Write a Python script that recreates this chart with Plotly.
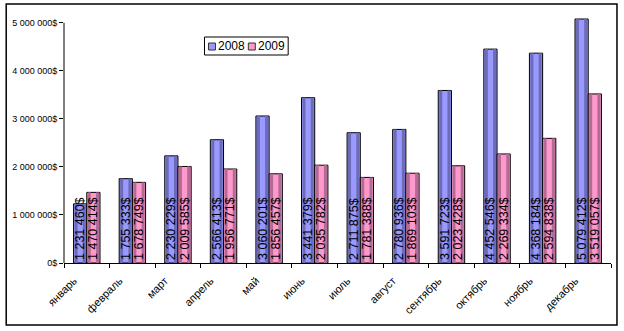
import plotly.graph_objects as go

months = ["январь", "февраль", "март", "апрель", "май", "июнь",
          "июль", "август", "сентябрь", "октябрь", "ноябрь", "декабрь"]
sales_2008 = [1231460, 1755333, 2230229, 2566413, 3060201, 3441379,
              2711875, 2780936, 3591723, 4452546, 4368184, 5079412]
sales_2009 = [1470414, 1678749, 2009585, 1956771, 1856457, 2035782,
              1781388, 1869103, 2023428, 2269334, 2594838, 3519057]
y_ticks = [0, 1000000, 2000000, 3000000, 4000000, 5000000]


def money(v):
    return f"{v:,}".replace(",", " ") + "$"


FONT = "Arial, Liberation Sans, sans-serif"
W = 0.29          # bar width in category units
PX = 1 / 45.75    # one pixel in category units
series = [
    ("2008", sales_2008, -W, "#9999FF", "#6B6BB8"),
    ("2009", sales_2009, 0.0, "#FF99CC", "#B36A95"),
]

fig = go.Figure()
for name, vals, off, light, dark in series:
    # main bar body with outline
    fig.add_trace(go.Bar(
        x=months, y=vals, name=name, offset=off, width=W, showlegend=False,
        marker=dict(color=light, line=dict(color="#000000", width=1)),
        hoverinfo="skip"))
    # darker edge stripes give the rounded, shaded look
    for so in (off + PX, off + W - 4 * PX):
        fig.add_trace(go.Bar(
            x=months, y=vals, offset=so, width=3 * PX, showlegend=False,
            marker=dict(color=dark, line=dict(width=0)), hoverinfo="skip"))

# value labels written upward from the bar base
for name, vals, off, light, dark in series:
    fig.add_trace(go.Bar(
        x=months, y=vals, offset=off, width=W, showlegend=False,
        marker=dict(color="rgba(0,0,0,0)", line=dict(width=0)),
        text=[money(v) for v in vals], textposition="inside",
        insidetextanchor="start", textangle=-90, constraintext="none",
        insidetextfont=dict(family=FONT, size=12.5, color="#000000"),
        hoverinfo="skip"))

Y_TOP = 5100000
L, R, T, B = 62, 13, 18, 68
pw, ph = 624 - L - R, 331 - T - B


def px_x(x):
    return (x - L) / pw


def px_y(y):
    return (331 - B - y) / ph


# outer chart frame
fig.add_shape(type="rect", xref="paper", yref="paper",
              x0=px_x(4), x1=px_x(617), y0=px_y(325), y1=px_y(4),
              line=dict(color="#000000", width=1.5), fillcolor="rgba(0,0,0,0)")
# value axis line, ending at the top tick
fig.add_shape(type="line", xref="paper", yref="y", x0=0, x1=0,
              y0=0, y1=y_ticks[-1], line=dict(color="#000000", width=1))

# legend box with swatches
fig.add_shape(type="rect", xref="paper", yref="paper",
              x0=px_x(203), x1=px_x(287), y0=px_y(55), y1=px_y(37),
              line=dict(color="#000000", width=1), fillcolor="#FFFFFF")
for (name, vals, off, light, dark), sx in zip(series, (207, 247)):
    fig.add_shape(type="rect", xref="paper", yref="paper",
                  x0=px_x(sx), x1=px_x(sx + 7), y0=px_y(50), y1=px_y(43),
                  line=dict(color="#333333", width=1), fillcolor=light)
    fig.add_annotation(xref="paper", yref="paper", x=px_x(sx + 8),
                       y=px_y(46.5), text=name, showarrow=False,
                       xanchor="left", yanchor="middle",
                       font=dict(family=FONT, size=12, color="#000000"))

fig.update_layout(
    width=624, height=331,
    margin=dict(l=L, r=R, t=T, b=B),
    paper_bgcolor="#FFFFFF", plot_bgcolor="#FFFFFF",
    barmode="overlay", bargap=0.42,
    showlegend=False,
    font=dict(family=FONT, color="#000000"),
)
fig.update_xaxes(
    type="category", showline=True, linecolor="#000000", linewidth=1,
    ticks="outside", ticklen=4, tickcolor="#000000", tickson="boundaries",
    tickangle=-45, tickfont=dict(family=FONT, size=11, color="#000000"),
    ticklabelshift=-13, ticklabelstandoff=6,
    showgrid=False, zeroline=False, range=[-0.5, 11.5])
fig.update_yaxes(
    range=[0, Y_TOP], tickvals=y_ticks, ticktext=[money(v) for v in y_ticks],
    showline=False,
    ticks="outside", ticklen=4, tickcolor="#000000",
    tickfont=dict(family=FONT, size=9, color="#000000"),
    showgrid=False, zeroline=False)

fig.write_html("out.html")
